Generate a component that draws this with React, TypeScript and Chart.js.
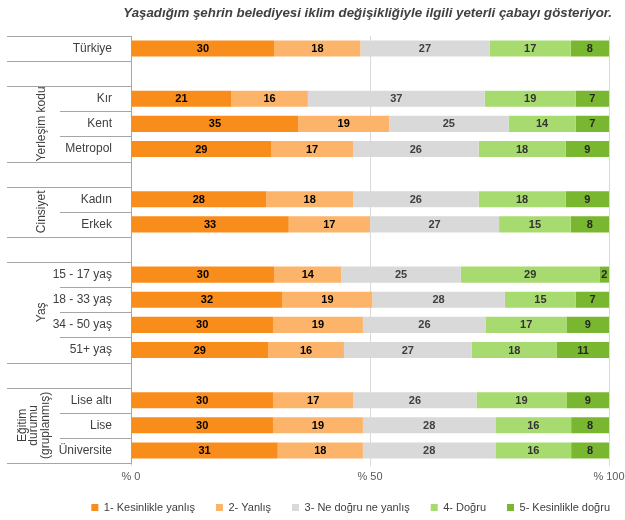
import { useEffect, useRef } from "react";
import { Chart, registerables } from "chart.js";

Chart.register(...registerables);

const titleText =
  "Yaşadığım şehrin belediyesi iklim değişikliğiyle ilgili yeterli çabayı gösteriyor.";

const rowLabels = [
  "Türkiye", "",
  "Kır", "Kent", "Metropol", "",
  "Kadın", "Erkek", "",
  "15 - 17 yaş", "18 - 33 yaş", "34 - 50 yaş", "51+ yaş", "",
  "Lise altı", "Lise", "Üniversite",
];

const seriesNames = [
  "1- Kesinlikle yanlış",
  "2- Yanlış",
  "3- Ne doğru ne yanlış",
  "4- Doğru",
  "5- Kesinlikle doğru",
];

const kesinlikleYanlis = [30, null, 21, 35, 29, null, 28, 33, null, 30, 32, 30, 29, null, 30, 30, 31];
const yanlis = [18, null, 16, 19, 17, null, 18, 17, null, 14, 19, 19, 16, null, 17, 19, 18];
const neDogruNeYanlis = [27, null, 37, 25, 26, null, 26, 27, null, 25, 28, 26, 27, null, 26, 28, 28];
const dogru = [17, null, 19, 14, 18, null, 18, 15, null, 29, 15, 17, 18, null, 19, 16, 16];
const kesinlikleDogru = [8, null, 7, 7, 9, null, 9, 8, null, 2, 7, 9, 11, null, 9, 8, 8];

const xTickValues = [0, 50, 100];

const groups = [
  { lines: ["Yerleşim kodu"], from: 2, to: 4 },
  { lines: ["Cinsiyet"], from: 6, to: 7 },
  { lines: ["Yaş"], from: 9, to: 12 },
  { lines: ["Eğitim", "durumu", "(gruplanmış)"], from: 14, to: 16 },
];

const seriesColors = ["#F98D1B", "#FCB46A", "#D9D9D9", "#A8DB6F", "#79B730"];
const labelColors = ["#000000", "#000000", "#404040", "#333333", "#262626"];

const FONT = '"Liberation Sans", Arial, sans-serif';

export default function App() {
  const ref = useRef<HTMLCanvasElement | null>(null);

  useEffect(() => {
    const canvas = ref.current;
    if (!canvas) return;
    const raw = [kesinlikleYanlis, yanlis, neDogruNeYanlis, dogru, kesinlikleDogru];
    const sums = rowLabels.map((_, i) =>
      raw.reduce((s, arr) => s + (arr[i] == null ? 0 : (arr[i] as number)), 0)
    );
    const datasets = raw.map((arr, k) => ({
      label: seriesNames[k],
      data: arr.map((v, i) => (v == null ? null : ((v as number) / sums[i]) * 100)),
      backgroundColor: seriesColors[k],
      borderWidth: 0,
      barPercentage: 0.64,
      categoryPercentage: 1,
    }));

    const tablePlugin = {
      id: "tablePlugin",
      afterDatasetsDraw(chart: any) {
        const { ctx } = chart;
        ctx.save();
        ctx.font = `bold 11px ${FONT}`;
        ctx.textAlign = "center";
        ctx.textBaseline = "middle";
        chart.data.datasets.forEach((_: any, k: number) => {
          const meta = chart.getDatasetMeta(k);
          meta.data.forEach((bar: any, i: number) => {
            const v = raw[k][i];
            if (v == null) return;
            const p = bar.getProps(["x", "y", "base"], true);
            ctx.fillStyle = labelColors[k];
            ctx.fillText(String(v), (p.x + p.base) / 2, p.y + 0.5);
          });
        });
        ctx.restore();
      },
      afterDraw(chart: any) {
        const { ctx, chartArea } = chart;
        const yScale = chart.scales.y;
        const n = rowLabels.length;
        const pitch = (chartArea.bottom - chartArea.top) / n;
        ctx.save();
        ctx.strokeStyle = "#a6a6a6";
        ctx.lineWidth = 1;
        for (let i = 0; i <= n; i++) {
          const yy = Math.round(yScale.getPixelForValue(i) - pitch / 2) + 0.5;
          const above = i > 0 ? rowLabels[i - 1] : "";
          const below = i < n ? rowLabels[i] : "";
          const full = !above || !below;
          ctx.beginPath();
          ctx.moveTo(full ? 7 : 60, yy);
          ctx.lineTo(chartArea.left, yy);
          ctx.stroke();
        }
        ctx.fillStyle = "#404040";
        ctx.font = `12px ${FONT}`;
        ctx.textAlign = "center";
        ctx.textBaseline = "middle";
        groups.forEach((g) => {
          const cy = (yScale.getPixelForValue(g.from) + yScale.getPixelForValue(g.to)) / 2;
          const cx = g.lines.length > 1 ? 34 : 42;
          ctx.save();
          ctx.translate(cx, cy);
          ctx.rotate(-Math.PI / 2);
          const lh = 11.5;
          g.lines.forEach((t, j) => {
            ctx.fillText(t, 0, (j - (g.lines.length - 1) / 2) * lh);
          });
          ctx.restore();
        });
        ctx.font = `italic bold 13.3px ${FONT}`;
        ctx.textAlign = "right";
        ctx.fillStyle = "#404040";
        ctx.fillText(titleText, 612, 13);
        ctx.restore();
      },
    };

    const chart = new Chart(canvas, {
      type: "bar",
      data: { labels: rowLabels, datasets },
      options: {
        indexAxis: "y",
        responsive: false,
        animation: false,
        events: [],
        layout: { padding: { top: 36, left: 0, right: -6, bottom: 1 } },
        scales: {
          x: {
            stacked: true,
            min: 0,
            max: 100,
            afterBuildTicks: (s: any) => {
              s.ticks = xTickValues.map((v) => ({ value: v }));
            },
            afterFit: (s: any) => {
              s.height = 18;
              s.paddingLeft = 0;
              s.paddingRight = 0;
            },
            grid: { color: "#d9d9d9", tickLength: 3, drawTicks: true },
            border: { display: false },
            ticks: {
              padding: 4,
              color: "#595959",
              font: { family: FONT, size: 11 },
              callback: (v: any) => "% " + v,
              maxRotation: 0,
            },
          },
          y: {
            stacked: true,
            afterFit: (s: any) => {
              s.width = 131;
            },
            grid: { display: false },
            border: { display: true, color: "#a6a6a6", width: 1 },
            ticks: {
              padding: 11,
              color: "#404040",
              font: { family: FONT, size: 12 },
              autoSkip: false,
            },
          },
          yR: {
            type: "linear",
            position: "right",
            display: true,
            afterFit: (s: any) => {
              s.width = 22;
            },
            grid: { display: false },
            border: { display: false },
            ticks: { display: false },
          },
        },
        plugins: {
          title: { display: false },
          tooltip: { enabled: false },
          legend: {
            position: "bottom",
            align: "end",
            maxHeight: 38,
            labels: {
              boxWidth: 7,
              boxHeight: 7,
              padding: 21,
              color: "#404040",
              font: { family: FONT, size: 11 },
            },
          },
        },
      },
      plugins: [tablePlugin],
    } as any);
    return () => chart.destroy();
  }, []);

  return (
    <div style={{ position: "absolute", left: 0, top: 0, width: 625, height: 520 }}>
      <canvas ref={ref} width={625} height={520} style={{ display: "block" }} />
    </div>
  );
}
